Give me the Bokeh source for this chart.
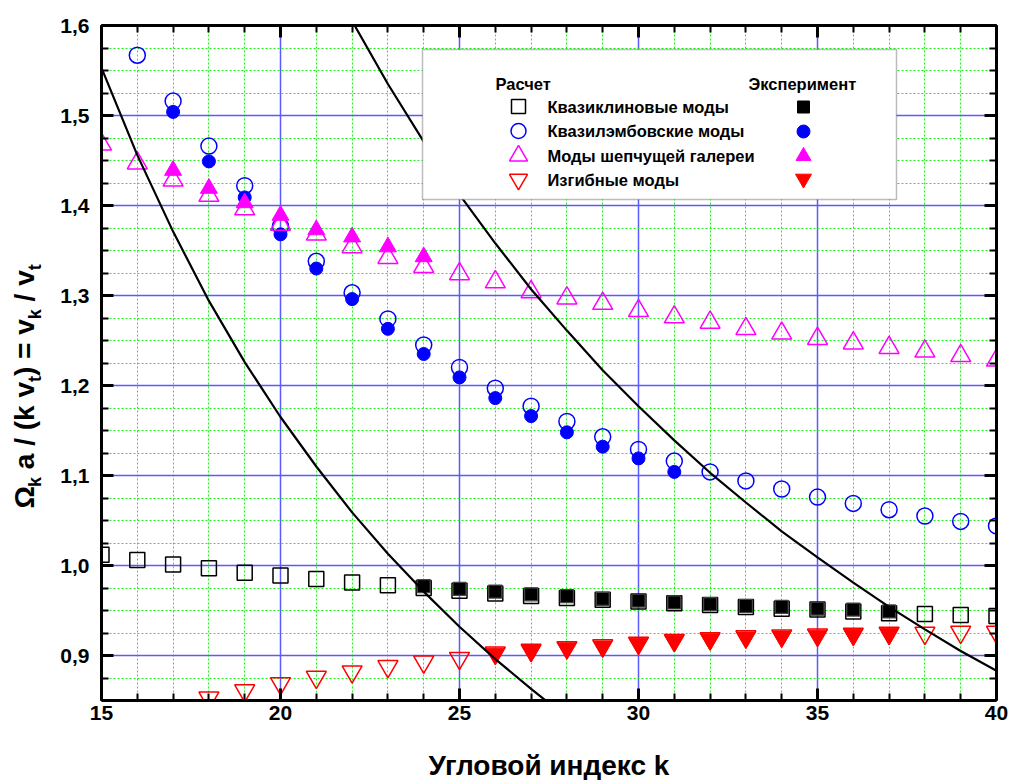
from bokeh.plotting import figure
from bokeh.layouts import row, column
from bokeh.models import (Range1d, LinearAxis, SingleIntervalTicker,
                          CustomJSTickFormatter, Label, BoxAnnotation)
from bokeh.embed import file_html
from bokeh.resources import INLINE

# ---------------- data ----------------
# Calculation (open markers) and experiment (filled markers)
calc_wedge_k = list(range(15, 41))
calc_wedge = [1.012, 1.006, 1.001, 0.997, 0.992, 0.989, 0.985, 0.981, 0.978, 0.975,
              0.972, 0.969, 0.966, 0.964, 0.962, 0.960, 0.958, 0.956, 0.954, 0.952,
              0.951, 0.949, 0.947, 0.946, 0.945, 0.944]
exp_wedge_k = list(range(24, 38))
exp_wedge = [0.977, 0.974, 0.971, 0.968, 0.966, 0.963, 0.961, 0.959, 0.957, 0.955,
             0.954, 0.952, 0.951, 0.949]

calc_lamb_k = list(range(16, 41))
calc_lamb = [1.567, 1.516, 1.466, 1.422, 1.377, 1.338, 1.303, 1.274, 1.245, 1.220,
             1.197, 1.177, 1.160, 1.143, 1.129, 1.116, 1.104, 1.094, 1.085, 1.076,
             1.069, 1.062, 1.055, 1.049, 1.044]
exp_lamb_k = list(range(17, 32))
exp_lamb = [1.504, 1.449, 1.409, 1.368, 1.330, 1.296, 1.263, 1.235, 1.209, 1.186,
            1.166, 1.148, 1.132, 1.119, 1.104]

calc_wg_k = list(range(15, 41))
calc_wg = [1.468, 1.447, 1.428, 1.411, 1.396, 1.379, 1.368, 1.354, 1.342, 1.332,
           1.324, 1.315, 1.304, 1.297, 1.291, 1.283, 1.276, 1.270, 1.263, 1.258,
           1.252, 1.247, 1.242, 1.238, 1.233, 1.228]
exp_wg_k = list(range(17, 25))
exp_wg = [1.439, 1.419, 1.403, 1.389, 1.373, 1.365, 1.354, 1.343]

calc_flex_k = list(range(17, 41))
calc_flex = [0.843, 0.853, 0.861, 0.869, 0.876, 0.882, 0.888, 0.893, 0.897, 0.903,
             0.906, 0.909, 0.911, 0.914, 0.917, 0.919, 0.921, 0.922, 0.923, 0.924,
             0.925, 0.925, 0.926, 0.926]
exp_flex_k = list(range(26, 38))
exp_flex = [0.902, 0.905, 0.908, 0.910, 0.913, 0.916, 0.918, 0.920, 0.921, 0.922,
            0.923, 0.924]

# Boundary curves
curve_a_k = [15, 16, 17, 18, 19, 20, 21, 22, 23, 24, 25, 26, 27, 27.5]
curve_a = [1.553, 1.456, 1.371, 1.294, 1.226, 1.165, 1.110, 1.059, 1.013, 0.971,
           0.932, 0.896, 0.863, 0.847]
curve_b_k = [22, 23, 24, 25, 26, 27, 28, 29, 30, 31, 32, 33, 34, 35, 36, 37, 38, 39, 40]
curve_b = [1.605, 1.535, 1.471, 1.412, 1.358, 1.307, 1.261, 1.217, 1.177, 1.139,
           1.103, 1.070, 1.038, 1.009, 0.981, 0.954, 0.929, 0.905, 0.883]

x_ticks_step = 5
y_ticks_step = 0.1

legend_calc_title = "Расчет"
legend_exp_title = "Эксперимент"
legend_labels = ["Квазиклиновые моды", "Квазилэмбовские моды",
                 "Моды шепчущей галереи", "Изгибные моды"]
x_title = "Угловой индекс k"

# ---------------- layout helpers ----------------
W, H = 1009, 780
STRIP = 50                      # width of the strip holding the y title
XSTRIP = 40                     # height of the strip holding the x title
L, R, T, B = 101, 996, 25, 700  # frame edges in page pixels
X0, X1, Y0, Y1 = 15, 40, 0.85, 1.6
NB = "\u00a0"


def dx(px):
    return X0 + (px - L) * (X1 - X0) / (R - L)


def dy(py):
    return Y1 - (py - T) * (Y1 - Y0) / (B - T)


FONT = "Liberation Sans"
BLUE, MAGENTA, RED = "#0000ff", "#ff00ff", "#ff0000"

p = figure(width=W - STRIP, height=H - XSTRIP, x_range=Range1d(X0, X1),
           y_range=Range1d(Y0, Y1), output_backend="svg", toolbar_location=None,
           title=None,
           min_border_left=L - STRIP, min_border_right=W - R,
           min_border_top=T, min_border_bottom=H - XSTRIP - B)
p.outline_line_color = None
p.background_fill_color = "white"
p.border_fill_color = "white"

xt = SingleIntervalTicker(interval=x_ticks_step, num_minor_ticks=5)
yt = SingleIntervalTicker(interval=y_ticks_step, num_minor_ticks=4)
p.xaxis.ticker = xt
p.yaxis.ticker = yt
p.xgrid.ticker = xt
p.ygrid.ticker = yt
p.yaxis.formatter = CustomJSTickFormatter(code="return tick.toFixed(1).replace('.', ',');")

blank = CustomJSTickFormatter(code="return '';")
p.add_layout(LinearAxis(ticker=xt, formatter=blank), "above")
p.add_layout(LinearAxis(ticker=yt, formatter=blank), "right")

for ax in p.axis:
    ax.axis_line_width = 3
    ax.axis_line_color = "black"
    ax.major_tick_in = 12
    ax.major_tick_out = 0
    ax.minor_tick_in = 7
    ax.minor_tick_out = 0
    ax.major_tick_line_width = 3
    ax.minor_tick_line_width = 2
    ax.major_label_text_font = FONT
    ax.major_label_text_font_style = "bold"
    ax.major_label_text_font_size = "21px"
    ax.major_label_text_color = "black"

p.xaxis[0].major_label_standoff = 11
p.yaxis[0].major_label_standoff = 12
for ax in (p.above[0], p.right[0]):
    ax.major_label_standoff = 0

p.grid.grid_line_color = "#5a5aff"
p.grid.grid_line_width = 1.5
p.grid.minor_grid_line_color = "#22ee22"
p.grid.minor_grid_line_dash = "2 2"
p.grid.minor_grid_line_width = 1

# ---------------- series ----------------
p.scatter(calc_wedge_k, calc_wedge, marker="square", size=15, fill_color=None,
          line_color="black", line_width=1.5)
p.scatter(exp_wedge_k, exp_wedge, marker="square", size=13, fill_color="black",
          line_color="#444444", line_width=1.2)

p.scatter(calc_lamb_k, calc_lamb, marker="circle", size=16, fill_color=None,
          line_color=BLUE, line_width=1.5)
p.scatter(exp_lamb_k, exp_lamb, marker="circle", size=13, fill_color=BLUE,
          line_color=BLUE, line_width=1)

p.scatter(calc_wg_k, calc_wg, marker="triangle", size=20, fill_color=None,
          line_color=MAGENTA, line_width=1.5)
p.scatter(exp_wg_k, exp_wg, marker="triangle", size=17, fill_color=MAGENTA,
          line_color=MAGENTA, line_width=1)

p.scatter(calc_flex_k, calc_flex, marker="inverted_triangle", size=20, fill_color=None,
          line_color=RED, line_width=1.5)
p.scatter(exp_flex_k, exp_flex, marker="inverted_triangle", size=19, fill_color=RED,
          line_color=RED, line_width=1)

p.line(curve_a_k, curve_a, line_color="black", line_width=2.2)
p.line(curve_b_k, curve_b, line_color="black", line_width=2.2)

# ---------------- legend panel ----------------
box = BoxAnnotation(left=dx(422), right=dx(896), top=dy(49), bottom=dy(199),
                    fill_color="white", fill_alpha=1.0, line_color="#222222",
                    line_width=1.5, level="annotation")
p.add_layout(box)


def add_text(px, py, text, size, align="left", baseline="middle"):
    p.add_layout(Label(x=dx(px), y=dy(py), text=text, text_font=FONT,
                       text_font_style="bold", text_font_size=size,
                       text_align=align, text_baseline=baseline,
                       text_color="black", level="overlay"))


add_text(495, 83, legend_calc_title, "16.5px")
add_text(748, 83, legend_exp_title, "16.5px")
row_y = [106.5, 130.5, 155, 179.5]
for lab, yy in zip(legend_labels, row_y):
    add_text(547, yy, lab, "16.5px")

cx_open, cx_fill = 518, 803
p.scatter([dx(cx_open)], [dy(106)], marker="square", size=14, fill_color=None,
          line_color="black", line_width=1.5, level="overlay")
p.scatter([dx(cx_fill)], [dy(106.5)], marker="square", size=12, fill_color="black",
          line_color="black", level="overlay")
p.scatter([dx(cx_open)], [dy(130.5)], marker="circle", size=15, fill_color=None,
          line_color=BLUE, line_width=1.5, level="overlay")
p.scatter([dx(cx_fill)], [dy(131)], marker="circle", size=13, fill_color=BLUE,
          line_color=BLUE, level="overlay")
p.scatter([dx(cx_open)], [dy(155.3)], marker="triangle", size=18, fill_color=None,
          line_color=MAGENTA, line_width=1.5, level="overlay")
p.scatter([dx(cx_fill)], [dy(155.6)], marker="triangle", size=15, fill_color=MAGENTA,
          line_color=MAGENTA, level="overlay")
p.scatter([dx(cx_open)], [dy(179)], marker="inverted_triangle", size=18, fill_color=None,
          line_color=RED, line_width=1.5, level="overlay")
p.scatter([dx(cx_fill)], [dy(178.3)], marker="inverted_triangle", size=16, fill_color=RED,
          line_color=RED, level="overlay")


def strip(width, height, xr, yr):
    f = figure(width=width, height=height, x_range=xr, y_range=yr,
               output_backend="svg", toolbar_location=None, title=None,
               x_axis_type=None, y_axis_type=None,
               min_border_left=0, min_border_right=0, min_border_top=0,
               min_border_bottom=0)
    f.outline_line_color = None
    f.grid.visible = False
    f.background_fill_color = "white"
    f.border_fill_color = "white"
    return f


# ---------------- x title strip (frame shares the main plot's left/right) -------
xs = strip(W - STRIP, XSTRIP, Range1d(L, R), Range1d(H, H - XSTRIP))
xs.add_layout(Label(x=548.5, y=765, text=x_title, text_font=FONT,
                    text_font_style="bold", text_font_size="28px",
                    text_align="center", text_baseline="middle",
                    text_color="black"))

# ---------------- y title strip: Ωk a / (k vt) = vk / vt ----------------
ys = strip(STRIP, H, Range1d(0, STRIP), Range1d(H, 0))

adv = {"Ω": 0.77, NB: 0.278, "a": 0.556, "/": 0.278, "(": 0.333, ")": 0.333,
       "k": 0.556, "v": 0.556, "t": 0.333, "=": 0.584}
main_px, sub_px = 28, 18
pieces = [("Ω", False), ("k", True), (NB + "a" + NB + "/" + NB + "(k" + NB + "v", False),
          ("t", True), (")" + NB + "=" + NB + "v", False), ("k", True),
          (NB + "/" + NB + "v", False), ("t", True)]
ypos = 508.0
mid_x = 23.5        # centre line of the main glyphs
sub_shift = 10.5    # subscripts sit lower on the rotated baseline
for txt, sub in pieces:
    fs = sub_px if sub else main_px
    ys.add_layout(Label(x=mid_x + (sub_shift if sub else 0), y=ypos, text=txt,
                        text_font=FONT, text_font_style="bold", text_font_size=f"{fs}px",
                        text_align="left", text_baseline="middle",
                        angle=1.5707963267948966, text_color="black"))
    ypos -= sum(adv[c] for c in txt) * fs

layout = row(ys, column(p, xs))
open("out.html", "w").write(file_html(layout, INLINE))
